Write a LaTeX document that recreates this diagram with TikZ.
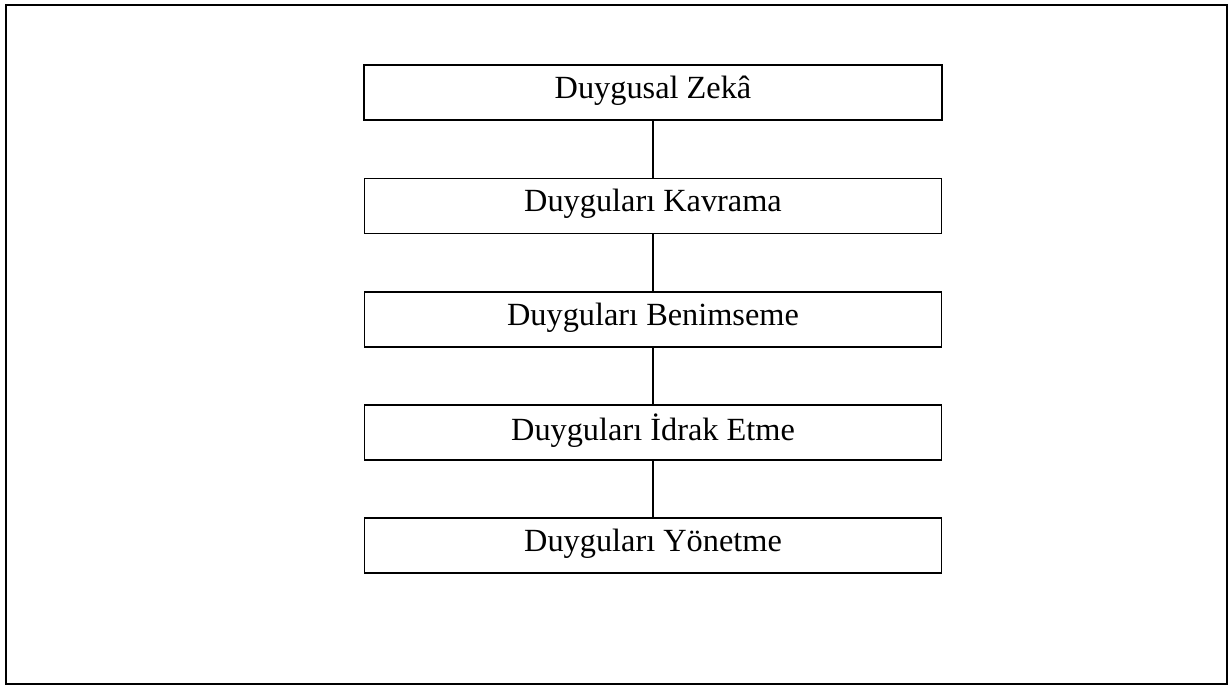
\documentclass[tikz,border=0pt]{standalone}
\usepackage{fontspec}
\setmainfont{Liberation Serif}
\usepackage{tikz}
\usetikzlibrary{positioning}

\begin{document}
\begin{tikzpicture}[
    x=0.02cm, y=-0.02cm,
    levelbox/.style={rectangle, draw=black, line width=0.6pt, minimum width=11.56cm, minimum height=1.1cm, inner sep=0pt, outer sep=0pt, text depth=0.22cm, align=center, font=\fontsize{18.4}{22}\selectfont},
    link/.style={draw=black, line width=0.6pt}
]
% Frame
\useasboundingbox (0,0) rectangle (1232,687);
\draw[line width=1.4pt] (6,5) rectangle (1227,684);

% Levels
\node[levelbox, line width=1.2pt] (zeka) at (653,92.5) {Duygusal Zekâ};
\node[levelbox] (kavrama) at (653,206) {Duyguları Kavrama};
\node[levelbox] (benimseme) at (653,319.5) {Duyguları Benimseme};
\node[levelbox] (idrak) at (653,432.5) {Duyguları İdrak Etme};
\node[levelbox] (yonetme) at (653,545.5) {Duyguları Yönetme};

% Links
\draw[link] (zeka) -- (kavrama);
\draw[link] (kavrama) -- (benimseme);
\draw[link] (benimseme) -- (idrak);
\draw[link] (idrak) -- (yonetme);
\end{tikzpicture}
\end{document}
